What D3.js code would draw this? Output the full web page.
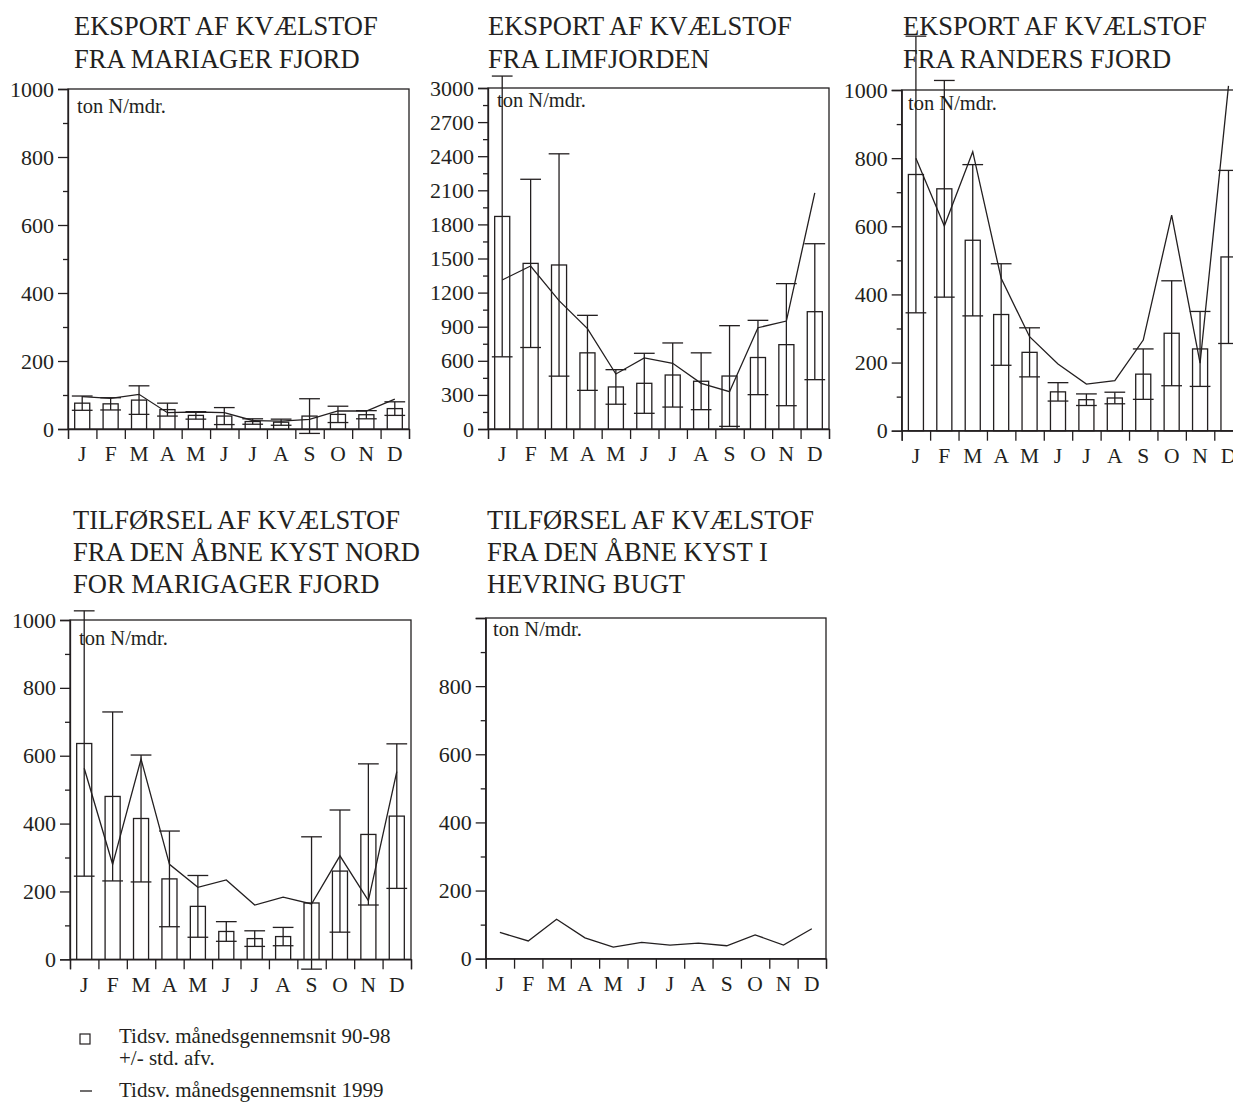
<!DOCTYPE html>
<html>
<head>
<meta charset="utf-8">
<script src="https://cdn.jsdelivr.net/npm/d3@7"></script>
<style>
  html, body { margin: 0; padding: 0; background: #fff; }
  svg { display: block; }
  text { font-family: "Liberation Serif", "Times New Roman", serif; fill: #231f20; }
  .axis path, .axis line { stroke: #231f20; stroke-width: 1.3; }
</style>
</head>
<body>
<svg id="chart" width="1233" height="1110"></svg>
<script>
// ---------- DATA ----------
const months = ["J","F","M","A","M","J","J","A","S","O","N","D"];

// Eksport af kvælstof fra Mariager Fjord
const mariagerMean = [76, 74, 85, 57, 40, 38, 22, 20, 38, 43, 42, 60];
const mariagerSd   = [21, 18, 42, 19, 11, 25,  8,  9, 51, 24, 12, 20];
const mariager1999 = [95, 90, 102, 48, 50, 48, 25, 23, 28, 53, 53, 88];

// Eksport af kvælstof fra Limfjorden
const limMean = [1870, 1457, 1443, 670, 370, 402, 475, 420, 466, 629, 742, 1032];
const limSd   = [1235,  740,  978, 330, 152, 264, 282, 250, 443, 327, 537,  598];
const lim1999 = [1311, 1434, 1129, 883, 484, 625, 578, 402, 328, 891, 950, 2078];

// Eksport af kvælstof fra Randers Fjord
const randersMean = [752, 710, 559, 341, 230, 114,  91,  96, 166, 286, 240, 510];
const randersSd   = [406, 318, 222, 149,  72,  27,  17,  17,  74, 154, 110, 254];
const randers1999 = [800, 601, 819, 447, 276, 196, 137, 147, 266, 633, 198, 1012];

// Tilførsel fra den åbne kyst nord for Mariager Fjord
const nordMean = [636, 480, 415, 237, 156,  82,  61,  67, 166, 260, 368, 422];
const nordSd   = [391, 249, 187, 141,  91,  29,  23,  27, 195, 180, 208, 213];
const nord1999 = [563, 280, 590, 280, 212, 234, 160, 183, 163, 305, 173, 553];

// Tilførsel fra den åbne kyst i Hevring Bugt
const hevring1999 = [77, 52, 116, 61, 34, 48, 40, 46, 38, 70, 40, 88];

// Tick values
const ticks1000 = [0, 200, 400, 600, 800, 1000];
const minor1000 = [100, 300, 500, 700, 900];
const ticks3000 = [0, 300, 600, 900, 1200, 1500, 1800, 2100, 2400, 2700, 3000];
const minor3000 = [150, 450, 750, 1050, 1350, 1650, 1950, 2250, 2550, 2850];

const unitLabel = "ton N/mdr.";
const legendText1 = "Tidsv. månedsgennemsnit 90-98";
const legendText2 = "+/- std. afv.";
const legendText3 = "Tidsv. månedsgennemsnit 1999";

// ---------- PANELS ----------
const panels = [
  { title: ["EKSPORT AF KVÆLSTOF", "FRA MARIAGER FJORD"], tx: 74, ty: [35, 68],
    x0: 68, x1: 409, top: 89, zero: 429, max: 1000, major: ticks1000, minor: minor1000,
    mean: mariagerMean, sd: mariagerSd, line: mariager1999, ux: 77, uy: 113, hideMax: false },
  { title: ["EKSPORT AF KVÆLSTOF", "FRA LIMFJORDEN"], tx: 488, ty: [35, 68],
    x0: 488, x1: 829, top: 88, zero: 429, max: 3000, major: ticks3000, minor: minor3000,
    mean: limMean, sd: limSd, line: lim1999, ux: 497, uy: 107, hideMax: false },
  { title: ["EKSPORT AF KVÆLSTOF", "FRA RANDERS FJORD"], tx: 903, ty: [35, 68],
    x0: 901.7, x1: 1242.7, top: 90, zero: 430.7, max: 1000, major: ticks1000, minor: minor1000,
    mean: randersMean, sd: randersSd, line: randers1999, ux: 908, uy: 110, hideMax: false },
  { title: ["TILFØRSEL AF KVÆLSTOF", "FRA DEN ÅBNE KYST NORD", "FOR MARIGAGER FJORD"], tx: 73, ty: [529, 561, 593],
    x0: 70, x1: 411, top: 620, zero: 959.3, max: 1000, major: ticks1000, minor: minor1000,
    mean: nordMean, sd: nordSd, line: nord1999, ux: 79, uy: 645, hideMax: false },
  { title: ["TILFØRSEL AF KVÆLSTOF", "FRA DEN ÅBNE KYST I", "HEVRING BUGT"], tx: 487, ty: [529, 561, 593],
    x0: 485.7, x1: 826, top: 618, zero: 958.7, max: 1000, major: ticks1000, minor: minor1000,
    mean: null, sd: null, line: hevring1999, ux: 493, uy: 636, hideMax: true }
];

const svg = d3.select("#chart");
const ink = "#231f20";

panels.forEach(p => {
  const g = svg.append("g");
  const idx = d3.range(12);
  const x = d3.scaleBand().domain(idx).range([p.x0, p.x1]).paddingInner(0).paddingOuter(0);
  const xEdge = d3.scaleLinear().domain([0, 12]).range([p.x0, p.x1]);
  const y = d3.scaleLinear().domain([0, p.max]).range([p.zero, p.top]);
  const bw = x.bandwidth();
  const barW = bw * 0.53;
  const capW = bw * 0.73;
  const cx = i => x(i) + bw / 2;

  // title
  const t = g.append("text").attr("font-size", 26.5);
  p.title.forEach((line, k) => {
    t.append("tspan").attr("x", p.tx).attr("y", p.ty[k]).text(line);
  });

  // frame (top & right)
  g.append("rect")
    .attr("x", p.x0).attr("y", p.top)
    .attr("width", p.x1 - p.x0).attr("height", p.zero - p.top)
    .attr("fill", "none").attr("stroke", ink).attr("stroke-width", 1.3);

  // bars
  if (p.mean) {
    g.selectAll("rect.bar").data(p.mean).join("rect")
      .attr("class", "bar")
      .attr("x", (d, i) => cx(i) - barW / 2)
      .attr("y", d => y(d))
      .attr("width", barW)
      .attr("height", d => y(0) - y(d))
      .attr("fill", "#fff").attr("stroke", ink).attr("stroke-width", 1.3);

    // error bars
    const eb = g.selectAll("g.err").data(p.mean).join("g").attr("class", "err");
    eb.append("line")
      .attr("x1", (d, i) => cx(i)).attr("x2", (d, i) => cx(i))
      .attr("y1", (d, i) => y(d + p.sd[i])).attr("y2", (d, i) => y(d - p.sd[i]))
      .attr("stroke", ink).attr("stroke-width", 1.3);
    eb.append("line")
      .attr("x1", (d, i) => cx(i) - capW / 2).attr("x2", (d, i) => cx(i) + capW / 2)
      .attr("y1", (d, i) => y(d + p.sd[i])).attr("y2", (d, i) => y(d + p.sd[i]))
      .attr("stroke", ink).attr("stroke-width", 1.3);
    eb.append("line")
      .attr("x1", (d, i) => cx(i) - capW / 2).attr("x2", (d, i) => cx(i) + capW / 2)
      .attr("y1", (d, i) => y(d - p.sd[i])).attr("y2", (d, i) => y(d - p.sd[i]))
      .attr("stroke", ink).attr("stroke-width", 1.3);
  }

  // 1999 line
  const lineGen = d3.line().x((d, i) => cx(i)).y(d => y(d));
  g.append("path").datum(p.line)
    .attr("d", lineGen)
    .attr("fill", "none").attr("stroke", ink).attr("stroke-width", 1.3)
    .attr("stroke-linejoin", "miter");

  // y axis - major
  const yAxis = d3.axisLeft(y).tickValues(p.major).tickSize(10).tickPadding(4)
    .tickFormat(d => (p.hideMax && d === p.max) ? "" : d);
  const ya = g.append("g").attr("class", "axis").attr("transform", `translate(${p.x0},0)`).call(yAxis);
  ya.selectAll("text").attr("font-size", 22).attr("fill", ink).attr("font-family", '"Liberation Serif", serif');
  // y axis - minor
  const yMinor = d3.axisLeft(y).tickValues(p.minor).tickSize(5).tickFormat("");
  const ym = g.append("g").attr("class", "axis").attr("transform", `translate(${p.x0},0)`).call(yMinor);
  ym.select("path").remove();

  // x axis - band edge ticks
  const xTicks = d3.axisBottom(xEdge).tickValues(d3.range(13)).tickSize(10).tickFormat("");
  g.append("g").attr("class", "axis").attr("transform", `translate(0,${p.zero})`).call(xTicks);
  // x axis - month labels
  const xLab = d3.axisBottom(x).tickSize(0).tickPadding(17).tickFormat(i => months[i]);
  const xl = g.append("g").attr("class", "axis").attr("transform", `translate(0,${p.zero})`).call(xLab);
  xl.select("path").remove();
  xl.selectAll("text").attr("font-size", 21.5).attr("fill", ink).attr("font-family", '"Liberation Serif", serif');

  // unit label
  g.append("text").attr("x", p.ux).attr("y", p.uy).attr("font-size", 20.5).text(unitLabel);
});

// ---------- LEGEND ----------
const lg = svg.append("g");
lg.append("rect").attr("x", 80).attr("y", 1034).attr("width", 10).attr("height", 10)
  .attr("fill", "#fff").attr("stroke", ink).attr("stroke-width", 1.2);
lg.append("text").attr("x", 119).attr("y", 1043).attr("font-size", 21).text(legendText1);
lg.append("text").attr("x", 119).attr("y", 1065).attr("font-size", 21).text(legendText2);
lg.append("line").attr("x1", 80).attr("x2", 92).attr("y1", 1091).attr("y2", 1091)
  .attr("stroke", ink).attr("stroke-width", 1.3);
lg.append("text").attr("x", 119).attr("y", 1097).attr("font-size", 21).text(legendText3);
</script>
</body>
</html>
